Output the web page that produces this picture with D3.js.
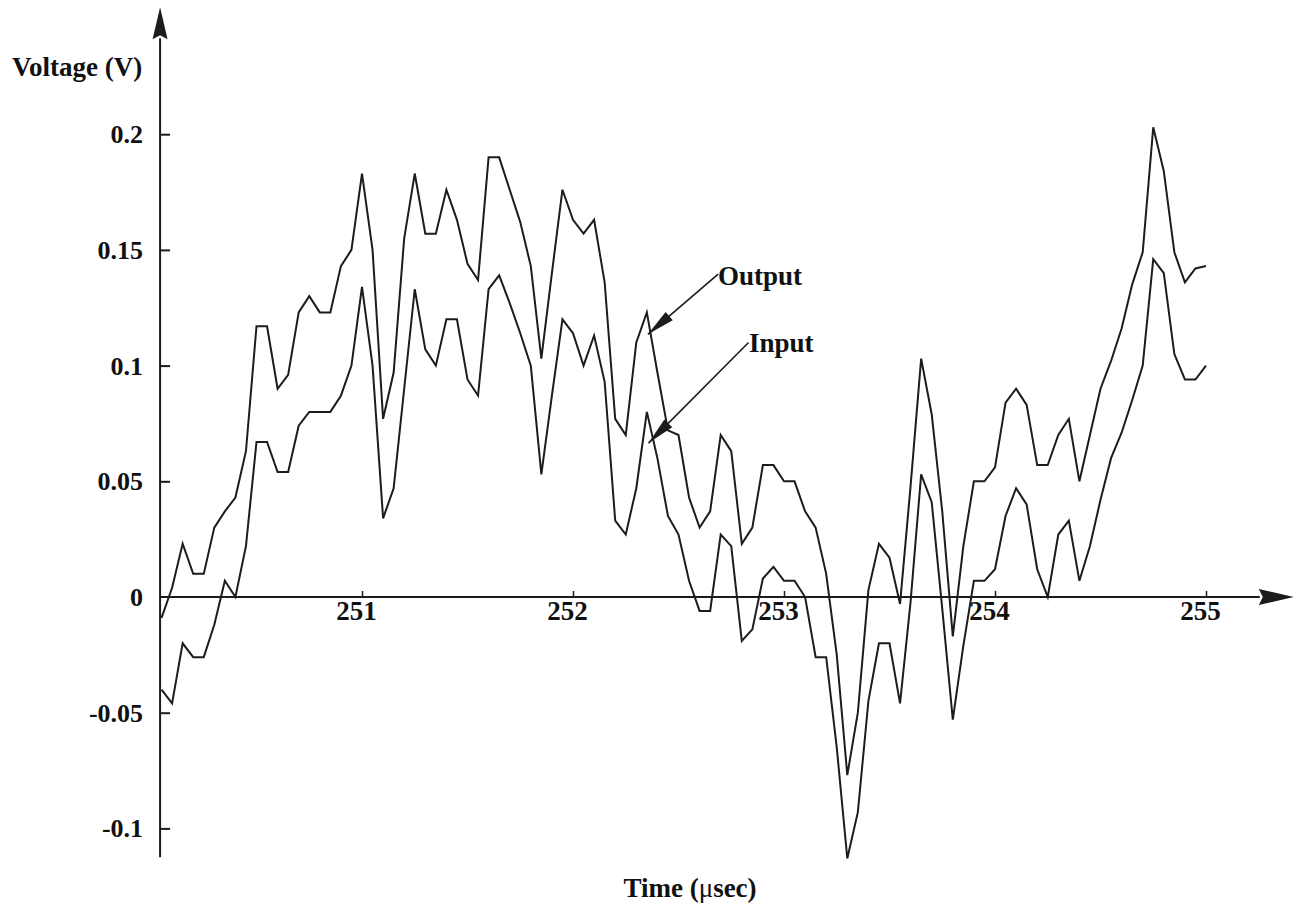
<!DOCTYPE html>
<html>
<head>
<meta charset="utf-8">
<script src="https://cdn.jsdelivr.net/npm/d3@7"></script>
<style>
  html, body { margin: 0; padding: 0; background: #ffffff; }
  svg { display: block; }
</style>
</head>
<body>
<svg id="chart" width="1308" height="914"></svg>
<script>
// Sample times (µs): 250.05 to 255.00 in 0.05 µs steps
const sampleStart = 250.05;
const sampleStep = 0.05;

// Output voltage (V) at each sample
const outputVolts = [
  -0.009, 0.004, 0.023, 0.010, 0.010, 0.030, 0.037, 0.043, 0.063, 0.117,
   0.117, 0.090, 0.096, 0.123, 0.130, 0.123, 0.123, 0.143, 0.150, 0.183,
   0.150, 0.077, 0.097, 0.155, 0.183, 0.157, 0.157, 0.176, 0.163, 0.144,
   0.137, 0.190, 0.190, 0.176, 0.162, 0.143, 0.103, 0.140, 0.176, 0.163,
   0.157, 0.163, 0.136, 0.077, 0.070, 0.110, 0.123, 0.097, 0.072, 0.070,
   0.043, 0.030, 0.037, 0.070, 0.063, 0.023, 0.030, 0.057, 0.057, 0.050,
   0.050, 0.037, 0.030, 0.010, -0.025, -0.077, -0.050, 0.003, 0.023, 0.017,
  -0.003, 0.048, 0.103, 0.079, 0.037, -0.017, 0.022, 0.050, 0.050, 0.056,
   0.084, 0.090, 0.083, 0.057, 0.057, 0.070, 0.077, 0.050, 0.070, 0.090,
   0.102, 0.116, 0.135, 0.149, 0.203, 0.184, 0.149, 0.136, 0.142, 0.143
];

// Input voltage (V) at each sample
const inputVolts = [
  -0.040, -0.046, -0.020, -0.026, -0.026, -0.012, 0.007, 0.000, 0.022, 0.067,
   0.067, 0.054, 0.054, 0.074, 0.080, 0.080, 0.080, 0.087, 0.100, 0.134,
   0.100, 0.034, 0.047, 0.090, 0.133, 0.107, 0.100, 0.120, 0.120, 0.094,
   0.087, 0.133, 0.139, 0.127, 0.114, 0.100, 0.053, 0.087, 0.120, 0.114,
   0.100, 0.113, 0.093, 0.033, 0.027, 0.047, 0.080, 0.060, 0.035, 0.027,
   0.007, -0.006, -0.006, 0.027, 0.022, -0.019, -0.014, 0.008, 0.013, 0.007,
   0.007, 0.000, -0.026, -0.026, -0.065, -0.113, -0.093, -0.045, -0.020, -0.020,
  -0.046, -0.002, 0.053, 0.041, -0.005, -0.053, -0.021, 0.007, 0.007, 0.012,
   0.035, 0.047, 0.040, 0.012, 0.000, 0.027, 0.033, 0.007, 0.022, 0.042,
   0.060, 0.071, 0.085, 0.100, 0.146, 0.140, 0.105, 0.094, 0.094, 0.100
];

// Axis ticks and labels
const timeTicks = [251, 252, 253, 254, 255];
const voltTicks = [0.2, 0.15, 0.1, 0.05, 0, -0.05, -0.1];

// Callout labels pointing at the two traces
const callouts = [
  { name: "Output", textAt: [252.687, 0.1348], lineFrom: [252.688, 0.1395], tip: [252.355, 0.1135] },
  { name: "Input",  textAt: [252.834, 0.1060], lineFrom: [252.832, 0.1100], tip: [252.358, 0.0665] }
];

const svg = d3.select("#chart");
const ink = "#1c1c1c";
const fontFamily = "'Liberation Serif', 'Times New Roman', Times, serif";

// Scales
const x = d3.scaleLinear().domain([251, 255]).range([362, 1206]);
const y = d3.scaleLinear().domain([-0.1, 0.2]).range([828.4, 134.2]);

const axisTime = 250.043;   // where the voltage axis crosses the time axis
const xAxisEnd = 255.255;   // start of the time-axis arrow head
const yAxisBottom = -0.1125;
const yAxisTop = 0.2415;    // start of the voltage-axis arrow head

const times = outputVolts.map((_, i) => +(sampleStart + i * sampleStep).toFixed(2));

// Axis lines
svg.append("line")
  .attr("x1", x(axisTime)).attr("x2", x(axisTime))
  .attr("y1", y(yAxisBottom)).attr("y2", y(yAxisTop))
  .attr("stroke", ink).attr("stroke-width", 2);
svg.append("line")
  .attr("x1", x(axisTime)).attr("x2", x(xAxisEnd))
  .attr("y1", y(0)).attr("y2", y(0))
  .attr("stroke", ink).attr("stroke-width", 2);

// Arrow heads on the axes
const yTipX = x(axisTime), yBase = y(yAxisTop);
svg.append("path")
  .attr("d", `M${yTipX},${yBase - 31} L${yTipX + 7.5},${yBase + 1} L${yTipX},${yBase - 3} L${yTipX - 7.5},${yBase + 1} Z`)
  .attr("fill", ink);
const xBase = x(xAxisEnd), xTipY = y(0);
svg.append("path")
  .attr("d", `M${xBase + 34},${xTipY} L${xBase - 1},${xTipY - 8} L${xBase + 3},${xTipY} L${xBase - 1},${xTipY + 8} Z`)
  .attr("fill", ink);

// Voltage axis: ticks point into the plot, labels on the left
const yAxis = d3.axisLeft(y)
  .tickValues(voltTicks)
  .tickSize(-10)
  .tickPadding(17)
  .tickFormat(d => String(d));
const gy = svg.append("g")
  .attr("transform", `translate(${x(axisTime)},0)`)
  .call(yAxis);
gy.select(".domain").remove();
gy.selectAll(".tick line").attr("stroke", ink).attr("stroke-width", 2)
  .filter(d => d === 0).remove();
gy.selectAll(".tick text")
  .attr("fill", "#111")
  .attr("font-family", fontFamily)
  .attr("font-weight", "bold")
  .attr("font-size", 26)
  .attr("dy", "0.33em");

// Time axis: short ticks above the line, labels below
const xAxis = d3.axisBottom(x)
  .tickValues(timeTicks)
  .tickSize(-6)
  .tickPadding(4)
  .tickFormat(d3.format("d"));
const gx = svg.append("g")
  .attr("transform", `translate(0,${y(0)})`)
  .call(xAxis);
gx.select(".domain").remove();
gx.selectAll(".tick line").attr("stroke", ink).attr("stroke-width", 1.5);
gx.selectAll(".tick text")
  .attr("fill", "#111")
  .attr("font-family", fontFamily)
  .attr("font-weight", "bold")
  .attr("font-size", 27)
  .attr("dx", -6);

// Traces
const line = d3.line()
  .x((d, i) => x(times[i]))
  .y(d => y(d));

[outputVolts, inputVolts].forEach(series => {
  svg.append("path")
    .datum(series)
    .attr("d", line)
    .attr("fill", "none")
    .attr("stroke", ink)
    .attr("stroke-width", 2)
    .attr("stroke-linejoin", "miter");
});

// Axis titles
svg.append("text")
  .attr("x", 12).attr("y", 76)
  .attr("font-family", fontFamily).attr("font-weight", "bold").attr("font-size", 27)
  .attr("fill", "#111")
  .text("Voltage (V)");

const xTitle = svg.append("text")
  .attr("x", 690).attr("y", 897)
  .attr("text-anchor", "middle")
  .attr("font-family", fontFamily).attr("font-weight", "bold").attr("font-size", 27)
  .attr("fill", "#111");
xTitle.append("tspan").text("Time (");
xTitle.append("tspan").attr("font-weight", "normal").text("μ");
xTitle.append("tspan").text("sec)");

// Callouts with arrows
callouts.forEach(c => {
  svg.append("text")
    .attr("x", x(c.textAt[0])).attr("y", y(c.textAt[1]))
    .attr("font-family", fontFamily).attr("font-weight", "bold").attr("font-size", 27)
    .attr("fill", "#111")
    .text(c.name);

  const x0 = x(c.lineFrom[0]), y0 = y(c.lineFrom[1]);
  const x1 = x(c.tip[0]), y1 = y(c.tip[1]);
  svg.append("line")
    .attr("x1", x0).attr("y1", y0).attr("x2", x1).attr("y2", y1)
    .attr("stroke", ink).attr("stroke-width", 1.6);

  const ang = Math.atan2(y1 - y0, x1 - x0);
  const len = 28, half = 5.5;
  const bx = x1 - len * Math.cos(ang), by = y1 - len * Math.sin(ang);
  const px = -Math.sin(ang) * half, py = Math.cos(ang) * half;
  svg.append("path")
    .attr("d", `M${x1},${y1} L${bx + px},${by + py} L${bx - px},${by - py} Z`)
    .attr("fill", ink);
});
</script>
</body>
</html>
